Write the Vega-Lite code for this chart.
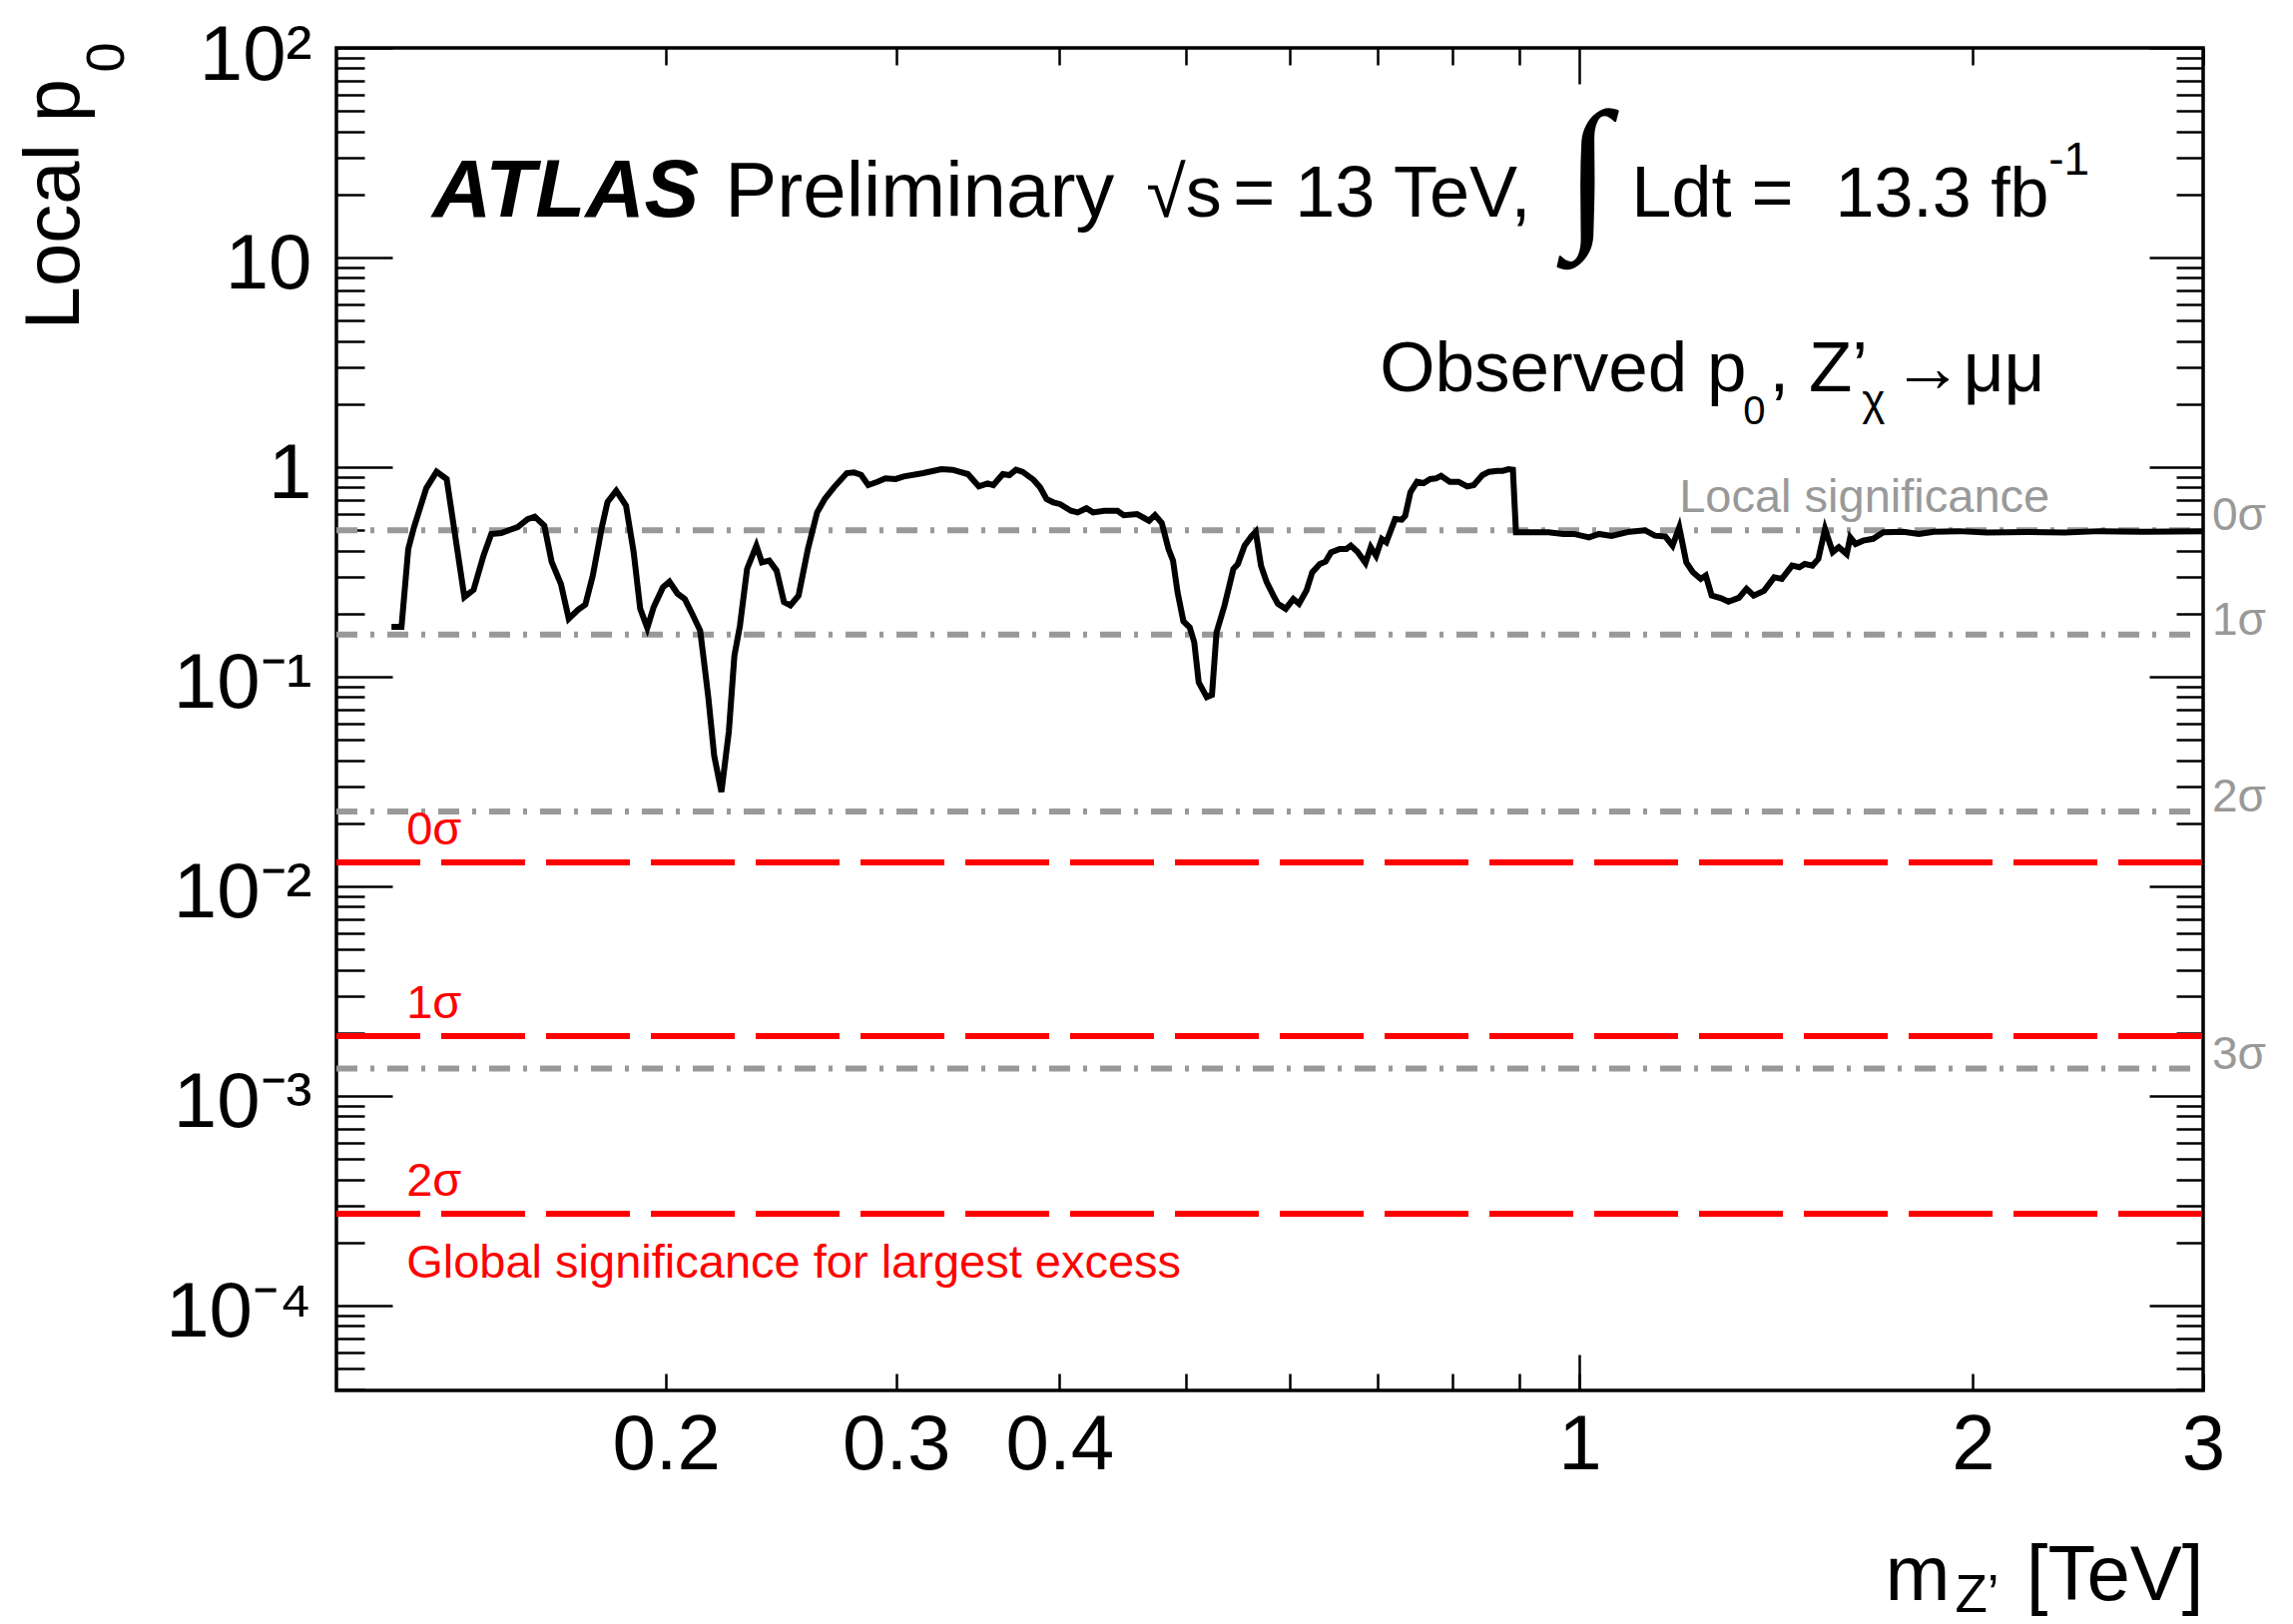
{
 "$schema": "https://vega.github.io/schema/vega-lite/v6.json",
 "width": 1870,
 "height": 1345,
 "autosize": "none",
 "padding": {"left": 337, "top": 48, "right": 90, "bottom": 234},
 "background": "white",
 "config": {
  "font": "Liberation Sans",
  "view": {"stroke": "black", "strokeWidth": 3.5},
  "axis": {"grid": false, "domain": false, "tickColor": "black", "tickWidth": 2.5, "labelFont": "Liberation Sans", "titleFont": "Liberation Sans", "titleFontWeight": "normal", "labelColor": "black", "titleColor": "black", "labelFlush": false, "labelOverlap": false},
  "text": {"font": "Liberation Sans"}
 },
 "datasets": {
  "curve": [
   {"m":0.1233,"p":0.173},{"m":0.1255,"p":0.173},{"m":0.127,"p":0.407},{"m":0.1283,"p":0.518},{"m":0.1311,"p":0.794},{"m":0.1335,"p":0.95},{"m":0.1359,"p":0.877},{"m":0.1402,"p":0.24},{"m":0.1425,"p":0.26},{"m":0.145,"p":0.378},{"m":0.147,"p":0.48},{"m":0.1496,"p":0.485},{"m":0.1516,"p":0.5},{"m":0.154,"p":0.518},{"m":0.1567,"p":0.565},{"m":0.1587,"p":0.58},{"m":0.1614,"p":0.526},{"m":0.1635,"p":0.353},{"m":0.1662,"p":0.277},{"m":0.1685,"p":0.189},{"m":0.1713,"p":0.209},{"m":0.1735,"p":0.221},{"m":0.1758,"p":0.304},{"m":0.1786,"p":0.516},{"m":0.1804,"p":0.681},{"m":0.1832,"p":0.771},{"m":0.1864,"p":0.654},{"m":0.1889,"p":0.394},{"m":0.1911,"p":0.211},{"m":0.1935,"p":0.171},{"m":0.1957,"p":0.215},{"m":0.1989,"p":0.267},{"m":0.2012,"p":0.284},{"m":0.2041,"p":0.249},{"m":0.2067,"p":0.235},{"m":0.2094,"p":0.2},{"m":0.2124,"p":0.166},{"m":0.2137,"p":0.122},{"m":0.2155,"p":0.079},{"m":0.2177,"p":0.042},{"m":0.2205,"p":0.0282},{"m":0.2234,"p":0.0547},{"m":0.2256,"p":0.126},{"m":0.2278,"p":0.175},{"m":0.2307,"p":0.327},{"m":0.2345,"p":0.422},{"m":0.2368,"p":0.351},{"m":0.2399,"p":0.358},{"m":0.243,"p":0.321},{"m":0.2462,"p":0.227},{"m":0.249,"p":0.219},{"m":0.2526,"p":0.244},{"m":0.2568,"p":0.407},{"m":0.261,"p":0.608},{"m":0.2645,"p":0.704},{"m":0.2688,"p":0.8},{"m":0.275,"p":0.936},{"m":0.2785,"p":0.943},{"m":0.282,"p":0.919},{"m":0.2856,"p":0.821},{"m":0.2902,"p":0.851},{"m":0.2944,"p":0.883},
   {"m":0.2997,"p":0.877},{"m":0.304,"p":0.903},{"m":0.3146,"p":0.936},{"m":0.3248,"p":0.978},{"m":0.3313,"p":0.971},{"m":0.3404,"p":0.926},{"m":0.347,"p":0.809},{"m":0.3524,"p":0.836},{"m":0.356,"p":0.821},{"m":0.362,"p":0.926},{"m":0.3662,"p":0.916},{"m":0.3705,"p":0.971},{"m":0.3748,"p":0.95},{"m":0.3821,"p":0.87},{"m":0.3866,"p":0.8},{"m":0.391,"p":0.704},{"m":0.3957,"p":0.679},{"m":0.4003,"p":0.667},{"m":0.4082,"p":0.619},{"m":0.413,"p":0.608},{"m":0.4195,"p":0.636},{"m":0.4244,"p":0.608},{"m":0.4327,"p":0.619},{"m":0.443,"p":0.619},{"m":0.448,"p":0.59},{"m":0.4586,"p":0.597},{"m":0.4684,"p":0.555},{"m":0.4733,"p":0.59},{"m":0.479,"p":0.541},{"m":0.4847,"p":0.407},{"m":0.4886,"p":0.358},{"m":0.4925,"p":0.253},{"m":0.4976,"p":0.184},{"m":0.5032,"p":0.172},{"m":0.5072,"p":0.146},{"m":0.5112,"p":0.094},{"m":0.5185,"p":0.08},{"m":0.5233,"p":0.082},{"m":0.5275,"p":0.163},{"m":0.535,"p":0.219},{"m":0.5434,"p":0.327},{"m":0.5477,"p":0.345},{"m":0.5542,"p":0.422},{"m":0.5608,"p":0.467},{"m":0.5652,"p":0.492},{"m":0.5705,"p":0.339},{"m":0.5763,"p":0.282},{"m":0.5831,"p":0.244},{"m":0.5877,"p":0.223},{"m":0.5959,"p":0.211},{"m":0.6039,"p":0.235},{"m":0.61,"p":0.223},{"m":0.6181,"p":0.258},{"m":0.6244,"p":0.315},{"m":0.6328,"p":0.345},{"m":0.6392,"p":0.354},{"m":0.6453,"p":0.392},{"m":0.6554,"p":0.407},{"m":0.6632,"p":0.407},{"m":0.6683,"p":0.422},{"m":0.6762,"p":0.395},{"m":0.6858,"p":0.349},{"m":0.6922,"p":0.415},{"m":0.6987,"p":0.378},{"m":0.7058,"p":0.454},{"m":0.7114,"p":0.438},{"m":0.7225,"p":0.565},{"m":0.731,"p":0.561},{"m":0.7355,"p":0.586},{"m":0.7423,"p":0.758},{"m":0.751,"p":0.851},{"m":0.7597,"p":0.839},{"m":0.7686,"p":0.877},{"m":0.7763,"p":0.883},{"m":0.7835,"p":0.909},{"m":0.7956,"p":0.851},{"m":0.8079,"p":0.851},{"m":0.8205,"p":0.809},{"m":0.8299,"p":0.821},{"m":0.8427,"p":0.916},{"m":0.8524,"p":0.95},{"m":0.8656,"p":0.96},{"m":0.8736,"p":0.96},{"m":0.8824,"p":0.978},{"m":0.8892,"p":0.971},{"m":0.894,"p":0.489},
   {"m":0.913,"p":0.489},{"m":0.9466,"p":0.489},{"m":0.972,"p":0.48},{"m":0.99,"p":0.48},{"m":1.0168,"p":0.462},{"m":1.035,"p":0.48},{"m":1.058,"p":0.47},{"m":1.092,"p":0.492},{"m":1.122,"p":0.5},{"m":1.142,"p":0.471},{"m":1.163,"p":0.467},{"m":1.178,"p":0.422},{"m":1.192,"p":0.516},{"m":1.207,"p":0.351},{"m":1.221,"p":0.315},{"m":1.238,"p":0.293},{"m":1.249,"p":0.304},{"m":1.262,"p":0.244},{"m":1.283,"p":0.237},{"m":1.3,"p":0.228},{"m":1.324,"p":0.238},{"m":1.342,"p":0.263},{"m":1.359,"p":0.244},{"m":1.384,"p":0.257},{"m":1.409,"p":0.298},{"m":1.428,"p":0.293},{"m":1.454,"p":0.339},{"m":1.473,"p":0.333},{"m":1.487,"p":0.345},{"m":1.507,"p":0.339},{"m":1.523,"p":0.365},{"m":1.541,"p":0.507},{"m":1.562,"p":0.393},{"m":1.579,"p":0.415},{"m":1.601,"p":0.385},{"m":1.611,"p":0.462},{"m":1.626,"p":0.43},{"m":1.648,"p":0.446},{"m":1.677,"p":0.455},{"m":1.708,"p":0.489},{"m":1.769,"p":0.492},{"m":1.818,"p":0.48},{"m":1.867,"p":0.492},{"m":1.95,"p":0.495},{"m":2.05,"p":0.487},{"m":2.2,"p":0.49},{"m":2.35,"p":0.487},{"m":2.5,"p":0.495},{"m":2.7,"p":0.492},{"m":3.0,"p":0.495}
  ],
  "local": [{"sig":"0σ","p":0.5},{"sig":"1σ","p":0.1587},{"sig":"2σ","p":0.02275},{"sig":"3σ","p":0.00135}],
  "global": [{"sig":"0σ","p":0.0130},{"sig":"1σ","p":0.00193},{"sig":"2σ","p":0.000274}]
 },
 "resolve": {"axis": {"x": "independent", "y": "independent"}},
 "layer": [
  {
   "data": {"name": "local"},
   "mark": {"type": "rule", "color": "#999999", "strokeWidth": 6, "strokeDash": [21, 13, 4, 13]},
   "encoding": {
    "x": {"datum": 0.1119, "type": "quantitative", "scale": {"type": "log", "domain": [0.1119, 3], "nice": false},
     "axis": {"orient": "bottom", "values": [1], "tickSize": -36, "labels": false, "title": "m", "titleFontSize": 78, "titleX": 1616, "titleY": 209, "titleAlign": "right", "titleBaseline": "alphabetic"}},
    "x2": {"datum": 3},
    "y": {"field": "p", "type": "quantitative", "scale": {"type": "log", "domain": [3.937e-5, 100], "nice": false},
     "axis": {"orient": "left", "values": [4e-5,5e-5,6e-5,7e-5,8e-5,9e-5,2e-4,3e-4,4e-4,5e-4,6e-4,7e-4,8e-4,9e-4,0.002,0.003,0.004,0.005,0.006,0.007,0.008,0.009,0.02,0.03,0.04,0.05,0.06,0.07,0.08,0.09,0.2,0.3,0.4,0.5,0.6,0.7,0.8,0.9,2,3,4,5,6,7,8,9,20,30,40,50,60,70,80,90], "tickSize": -28, "labels": false, "title": "0", "titleFontSize": 54, "titleAngle": 270, "titleX": -214, "titleY": 24, "titleAlign": "left", "titleBaseline": "alphabetic"}}
   }
  },
  {
   "data": {"name": "global"},
   "mark": {"type": "rule", "color": "#ff0000", "strokeWidth": 6, "strokeDash": [84, 21]},
   "encoding": {
    "x": {"datum": 0.1119, "type": "quantitative", "scale": {"type": "log", "domain": [0.1119, 3], "nice": false},
     "axis": {"orient": "top", "values": [0.2,0.3,0.4,0.5,0.6,0.7,0.8,0.9,2,3], "tickSize": -17, "labels": false, "title": null}},
    "x2": {"datum": 3},
    "y": {"field": "p", "type": "quantitative", "scale": {"type": "log", "domain": [3.937e-5, 100], "nice": false},
     "axis": {"orient": "right", "values": [0.0001,0.001,0.01,0.1,1,10,100], "tickSize": -54, "labels": false, "title": null}}
   }
  },
  {
   "data": {"name": "curve"},
   "mark": {"type": "line", "color": "black", "strokeWidth": 6},
   "encoding": {
    "x": {"field": "m", "type": "quantitative", "scale": {"type": "log", "domain": [0.1119, 3], "nice": false},
     "axis": {"orient": "bottom", "values": [0.2,0.3,0.4,0.5,0.6,0.7,0.8,0.9,1,2,3], "tickSize": -17, "labelExpr": "datum.value < 0.45 || datum.value > 0.95 ? format(datum.value, '~g') : ''", "labelFontSize": 78, "labelPadding": 33, "labelBaseline": "top", "title": "[TeV]", "titleFontSize": 78, "titleX": 1870, "titleY": 209, "titleAlign": "right", "titleBaseline": "alphabetic"}},
    "y": {"field": "p", "type": "quantitative", "scale": {"type": "log", "domain": [3.937e-5, 100], "nice": false},
     "axis": {"orient": "left", "values": [0.0001,0.001,0.01,0.1,1,10,100], "tickSize": -56, "labelExpr": "datum.value > 50 ? '10²' : datum.value > 5 ? '10' : datum.value > 0.5 ? '1' : datum.value > 0.05 ? '10⁻¹' : datum.value > 0.005 ? '10⁻²' : datum.value > 0.0005 ? '10⁻³' : '10⁻⁴'", "labelFontSize": 78, "labelPadding": 81, "labelBaseline": "middle", "labelAlign": "right", "labelOffset": 8, "title": "Local p", "titleFontSize": 78, "titleAngle": 270, "titleX": -259, "titleY": 282, "titleAlign": "left", "titleBaseline": "alphabetic"}}
   }
  },
  {
   "data": {"name": "local"},
   "mark": {"type": "text", "color": "#999999", "fontSize": 46, "align": "left", "baseline": "alphabetic", "dx": 9},
   "encoding": {
    "x": {"datum": 3, "type": "quantitative", "scale": {"type": "log", "domain": [0.1119, 3], "nice": false},
     "axis": {"orient": "top", "values": [1], "tickSize": -36, "labels": false, "title": "Z’", "titleFontSize": 53, "titleX": 1621, "titleY": 1566, "titleAlign": "left", "titleBaseline": "alphabetic"}},
    "y": {"field": "p", "type": "quantitative", "scale": {"type": "log", "domain": [3.937e-5, 100], "nice": false},
     "axis": {"orient": "right", "values": [4e-5,5e-5,6e-5,7e-5,8e-5,9e-5,2e-4,3e-4,4e-4,5e-4,6e-4,7e-4,8e-4,9e-4,0.002,0.003,0.004,0.005,0.006,0.007,0.008,0.009,0.02,0.03,0.04,0.05,0.06,0.07,0.08,0.09,0.2,0.3,0.4,0.5,0.6,0.7,0.8,0.9,2,3,4,5,6,7,8,9,20,30,40,50,60,70,80,90], "tickSize": -27, "labels": false, "title": null}},
    "text": {"field": "sig"}
   }
  },
  {
   "data": {"name": "global"},
   "mark": {"type": "text", "color": "#ff0000", "fontSize": 47, "align": "left", "baseline": "alphabetic", "dy": -18},
   "encoding": {
    "x": {"datum": 0.1266, "type": "quantitative", "scale": {"type": "log"}, "axis": null},
    "y": {"field": "p", "type": "quantitative", "scale": {"type": "log"}, "axis": null},
    "text": {"field": "sig"}
   }
  },
  {
   "data": {"values": [{"t": "Global significance for largest excess"}]},
   "mark": {"type": "text", "color": "#ff0000", "fontSize": 47, "align": "left", "baseline": "alphabetic"},
   "encoding": {"x": {"datum": 0.1266, "type": "quantitative", "scale": {"type": "log"}, "axis": null}, "y": {"datum": 0.0001358, "type": "quantitative", "scale": {"type": "log"}, "axis": null}, "text": {"field": "t"}}
  },
  {
   "data": {"values": [{"t": "Local significance"}]},
   "mark": {"type": "text", "color": "#999999", "fontSize": 47, "align": "left", "baseline": "alphabetic"},
   "encoding": {"x": {"datum": 1.192, "type": "quantitative", "scale": {"type": "log"}, "axis": null}, "y": {"datum": 0.61, "type": "quantitative", "scale": {"type": "log"}, "axis": null}, "text": {"field": "t"}}
  },
  {
   "data": {"values": [{"t": "ATLAS"}]},
   "mark": {"type": "text", "fontSize": 82, "fontWeight": "bold", "fontStyle": "italic", "align": "left", "baseline": "alphabetic"},
   "encoding": {"x": {"datum": 0.1325, "type": "quantitative", "scale": {"type": "log"}, "axis": null}, "y": {"datum": 15.67, "type": "quantitative", "scale": {"type": "log"}, "axis": null}, "text": {"field": "t"}}
  },
  {
   "data": {"values": [{"t": "Preliminary"}]},
   "mark": {"type": "text", "fontSize": 78, "align": "left", "baseline": "alphabetic"},
   "encoding": {"x": {"datum": 0.2219, "type": "quantitative", "scale": {"type": "log"}, "axis": null}, "y": {"datum": 15.67, "type": "quantitative", "scale": {"type": "log"}, "axis": null}, "text": {"field": "t"}}
  },
  {
   "data": {"values": [{"t": "√s"}]},
   "mark": {"type": "text", "fontSize": 72, "align": "left", "baseline": "alphabetic"},
   "encoding": {"x": {"datum": 0.466, "type": "quantitative", "scale": {"type": "log"}, "axis": null}, "y": {"datum": 15.67, "type": "quantitative", "scale": {"type": "log"}, "axis": null}, "text": {"field": "t"}}
  },
  {
   "data": {"values": [{"t": "= 13 TeV,"}]},
   "mark": {"type": "text", "fontSize": 72, "align": "left", "baseline": "alphabetic"},
   "encoding": {"x": {"datum": 0.5431, "type": "quantitative", "scale": {"type": "log"}, "axis": null}, "y": {"datum": 15.67, "type": "quantitative", "scale": {"type": "log"}, "axis": null}, "text": {"field": "t"}}
  },
  {
   "data": {"values": [{"t": "∫"}]},
   "mark": {"type": "text", "font": "Liberation Serif", "fontSize": 165, "align": "left", "baseline": "alphabetic"},
   "encoding": {"x": {"datum": 0.975, "type": "quantitative", "scale": {"type": "log"}, "axis": null}, "y": {"datum": 14.2, "type": "quantitative", "scale": {"type": "log"}, "axis": null}, "text": {"field": "t"}}
  },
  {
   "data": {"values": [{"t": "Ldt ="}]},
   "mark": {"type": "text", "fontSize": 72, "align": "left", "baseline": "alphabetic"},
   "encoding": {"x": {"datum": 1.0958, "type": "quantitative", "scale": {"type": "log"}, "axis": null}, "y": {"datum": 15.67, "type": "quantitative", "scale": {"type": "log"}, "axis": null}, "text": {"field": "t"}}
  },
  {
   "data": {"values": [{"t": "13.3 fb"}]},
   "mark": {"type": "text", "fontSize": 70, "align": "left", "baseline": "alphabetic"},
   "encoding": {"x": {"datum": 1.569, "type": "quantitative", "scale": {"type": "log"}, "axis": null}, "y": {"datum": 15.67, "type": "quantitative", "scale": {"type": "log"}, "axis": null}, "text": {"field": "t"}}
  },
  {
   "data": {"values": [{"t": "-1"}]},
   "mark": {"type": "text", "fontSize": 46, "align": "left", "baseline": "alphabetic"},
   "encoding": {"x": {"datum": 2.285, "type": "quantitative", "scale": {"type": "log"}, "axis": null}, "y": {"datum": 24.8, "type": "quantitative", "scale": {"type": "log"}, "axis": null}, "text": {"field": "t"}}
  },
  {
   "data": {"values": [{"t": "Observed p"}]},
   "mark": {"type": "text", "fontSize": 71, "align": "left", "baseline": "alphabetic"},
   "encoding": {"x": {"datum": 0.7035, "type": "quantitative", "scale": {"type": "log"}, "axis": null}, "y": {"datum": 2.30, "type": "quantitative", "scale": {"type": "log"}, "axis": null}, "text": {"field": "t"}}
  },
  {
   "data": {"values": [{"t": "0"}]},
   "mark": {"type": "text", "fontSize": 40, "align": "left", "baseline": "alphabetic"},
   "encoding": {"x": {"datum": 1.334, "type": "quantitative", "scale": {"type": "log"}, "axis": null}, "y": {"datum": 1.602, "type": "quantitative", "scale": {"type": "log"}, "axis": null}, "text": {"field": "t"}}
  },
  {
   "data": {"values": [{"t": ", Z’"}]},
   "mark": {"type": "text", "fontSize": 71, "align": "left", "baseline": "alphabetic"},
   "encoding": {"x": {"datum": 1.397, "type": "quantitative", "scale": {"type": "log"}, "axis": null}, "y": {"datum": 2.30, "type": "quantitative", "scale": {"type": "log"}, "axis": null}, "text": {"field": "t"}}
  },
  {
   "data": {"values": [{"t": "χ"}]},
   "mark": {"type": "text", "fontSize": 44, "align": "left", "baseline": "alphabetic"},
   "encoding": {"x": {"datum": 1.645, "type": "quantitative", "scale": {"type": "log"}, "axis": null}, "y": {"datum": 1.769, "type": "quantitative", "scale": {"type": "log"}, "axis": null}, "text": {"field": "t"}}
  },
  {
   "data": {"values": [{"t": "→μμ"}]},
   "mark": {"type": "text", "fontSize": 71, "align": "left", "baseline": "alphabetic"},
   "encoding": {"x": {"datum": 1.735, "type": "quantitative", "scale": {"type": "log"}, "axis": null}, "y": {"datum": 2.30, "type": "quantitative", "scale": {"type": "log"}, "axis": null}, "text": {"field": "t"}}
  }
 ]
}
